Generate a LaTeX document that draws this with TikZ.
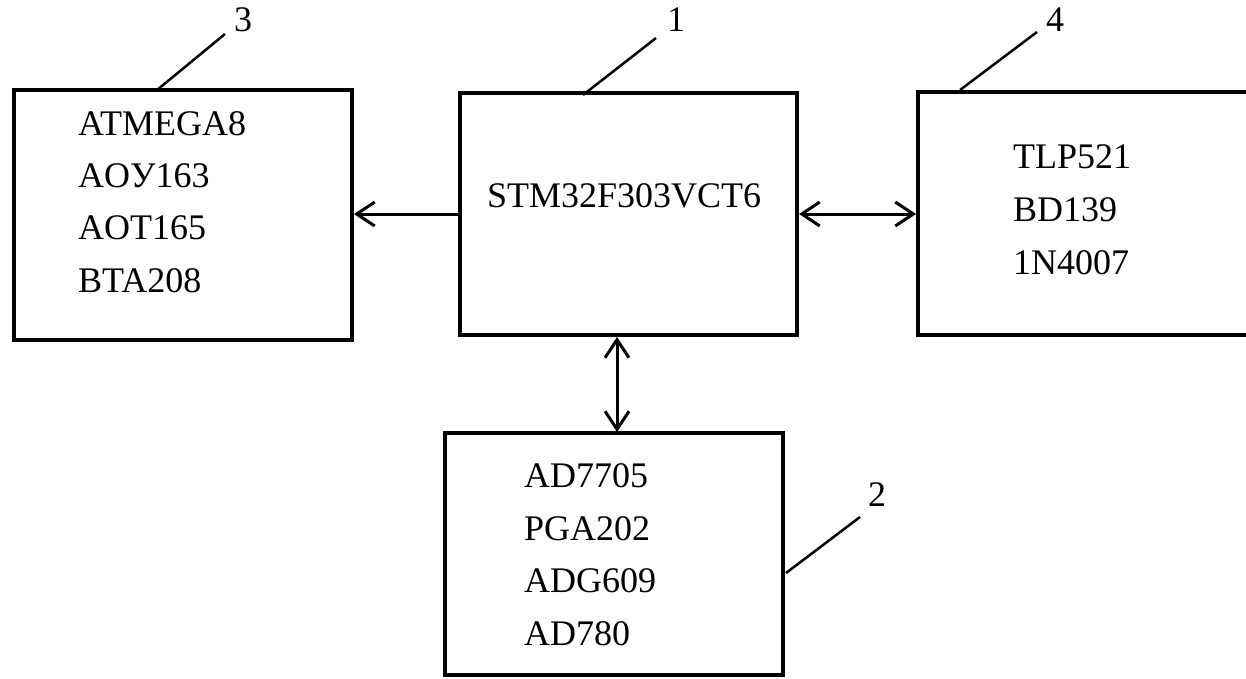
\documentclass[tikz,border=0pt]{standalone}
\usepackage{fontspec}
\setmainfont{Liberation Serif}
\usetikzlibrary{arrows.meta}
\begin{document}
\begin{tikzpicture}[x=1pt,y=-1pt,
  blk/.style={draw, line width=4pt, rectangle, inner sep=0pt},
  txt/.style={anchor=base west, inner sep=0pt, font=\fontsize{36}{40}\selectfont},
  lbl/.style={anchor=center, inner sep=0pt, font=\fontsize{36}{40}\selectfont},
  conn/.style={line width=3pt, arrows={Straight Barb[length=18pt,width=24pt,line width=3pt]-Straight Barb[length=18pt,width=24pt,line width=3pt]}},
  conn1/.style={line width=3pt, -{Straight Barb[length=18pt,width=24pt,line width=3pt]}},
  lead/.style={line width=2.5pt}]
\useasboundingbox (0,0) rectangle (1246,678);
\fill[white] (0,0) rectangle (1246,678);
\clip (0,0) rectangle (1246,678);
% boxes
\node[blk, minimum width=338pt, minimum height=250pt] (b3) at (183,215) {};
\node[blk, minimum width=337pt, minimum height=242pt] (b1) at (628.5,214) {};
\node[blk, minimum width=344pt, minimum height=243pt] (b4) at (1090,213.5) {};
\node[blk, minimum width=338pt, minimum height=242pt] (b2) at (614,554) {};
% texts
\node[txt] (t31) at (78,135) {ATMEGA8};
\node[txt] (t32) at (78,187) {AOУ163};
\node[txt] (t33) at (78,239) {AOT165};
\node[txt] (t34) at (78,292) {BTA208};
\node[txt] (t11) at (487,207) {STM32F303VCT6};
\node[txt] (t41) at (1013,168) {TLP521};
\node[txt] (t42) at (1013,221) {BD139};
\node[txt] (t43) at (1013,274) {1N4007};
\node[txt] (t21) at (524,487) {AD7705};
\node[txt] (t22) at (524,540) {PGA202};
\node[txt] (t23) at (524,592) {ADG609};
\node[txt] (t24) at (524,645) {AD780};
% connectors
\draw[conn1] (b1.west) -- (b1.west -| b3.east);
\draw[conn] (b1.east) -- (b1.east -| b4.west);
\coordinate (v1) at (617,337);
\coordinate (v2) at (617,432);
\draw[conn] (v1) -- (v2);
% leaders
\node[lbl] (n3) at (243,20) {3};
\node[lbl] (n1) at (676,20) {1};
\node[lbl] (n4) at (1055,20) {4};
\node[lbl] (n2) at (877,495) {2};
\coordinate (p3) at (157,90);
\coordinate (q3) at (225,34);
\coordinate (p1) at (583,95);
\coordinate (q1) at (656,38);
\coordinate (p4) at (960,90);
\coordinate (q4) at (1037,32);
\coordinate (p2) at (786,573);
\coordinate (q2) at (860,517);
\draw[lead] (p3) -- (q3);
\draw[lead] (p1) -- (q1);
\draw[lead] (p4) -- (q4);
\draw[lead] (p2) -- (q2);
\end{tikzpicture}
\end{document}
